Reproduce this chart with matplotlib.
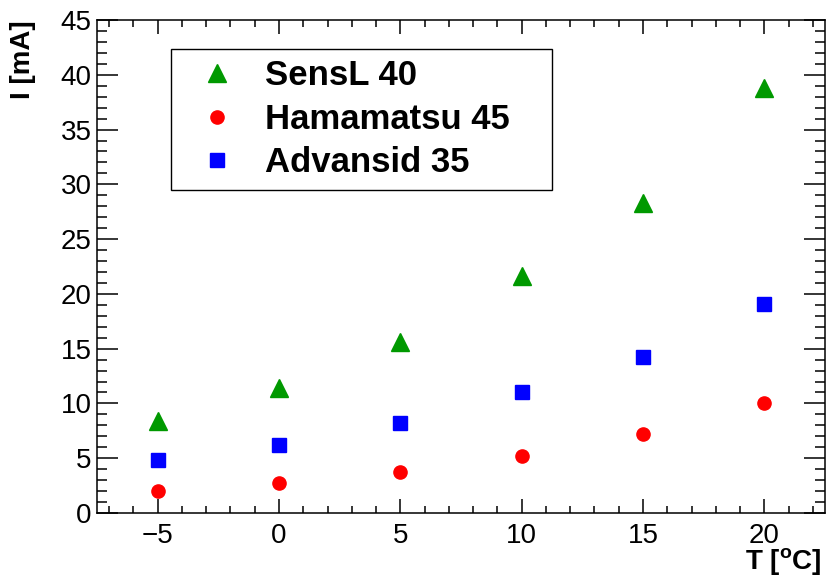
import matplotlib
matplotlib.use("Agg")
import matplotlib.pyplot as plt
from matplotlib.ticker import MultipleLocator

plt.rcParams['font.family'] = ['Liberation Sans', 'DejaVu Sans']
plt.rcParams['mathtext.fontset'] = 'custom'
plt.rcParams['mathtext.rm'] = 'Liberation Sans'
plt.rcParams['mathtext.bf'] = 'Liberation Sans:bold'

# Data
temps = [-5, 0, 5, 10, 15, 20]
sensl = [8.4, 11.4, 15.6, 21.6, 28.3, 38.8]
hamamatsu = [2.0, 2.7, 3.7, 5.2, 7.2, 10.0]
advansid = [4.8, 6.2, 8.2, 11.0, 14.2, 19.1]
labels = ['SensL 40', 'Hamamatsu 45', 'Advansid 35']

fig = plt.figure(figsize=(8.27, 5.78), dpi=100)
ax = fig.add_axes([97/827, 65/578, 728/827, 493/578])

ax.plot(temps, sensl, '^', color='#009900', markersize=13, linestyle='none', label=labels[0])
ax.plot(temps, hamamatsu, 'o', color='#ff0000', markersize=9.5, linestyle='none', label=labels[1])
ax.plot(temps, advansid, 's', color='#0000ff', markersize=10.5, linestyle='none', label=labels[2])

ax.set_xlim(-7.5, 22.5)
ax.set_ylim(0, 45)
ax.xaxis.set_major_locator(MultipleLocator(5))
ax.xaxis.set_minor_locator(MultipleLocator(1))
ax.yaxis.set_major_locator(MultipleLocator(5))
ax.yaxis.set_minor_locator(MultipleLocator(1))

for s in ax.spines.values():
    s.set_linewidth(1.1)

ax.tick_params(axis='both', which='both', direction='in', top=True, right=True,
               labelsize=20, width=1.1)
ax.tick_params(axis='x', which='major', length=10, pad=7)
ax.tick_params(axis='x', which='minor', length=5)
ax.tick_params(axis='y', which='major', length=15, pad=4)
ax.tick_params(axis='y', which='minor', length=7.5)

ax.set_xlabel(r'T [$^{\mathbf{o}}$C]', fontsize=20, fontweight='bold', loc='right')
ax.xaxis.set_label_coords((822 - 97) / 728, -0.068)
ax.set_ylabel('I [mA]', fontsize=20, fontweight='bold', loc='top')
ax.yaxis.set_label_coords(-0.084, 1.0)

# legend box spanning the reference's frame
leg = ax.legend(loc='upper left', mode='expand',
                bbox_to_anchor=(171/827, 1 - 185/578, (552 - 171)/827, (185 - 49)/578),
                bbox_transform=fig.transFigure, borderaxespad=0,
                prop={'weight': 'bold', 'size': 25},
                fancybox=False, framealpha=1, edgecolor='black',
                handletextpad=0.35, handlelength=2.05, labelspacing=0.3,
                borderpad=0.3)
leg.get_frame().set_linewidth(1.0)

plt.savefig('out.png', dpi=100)
